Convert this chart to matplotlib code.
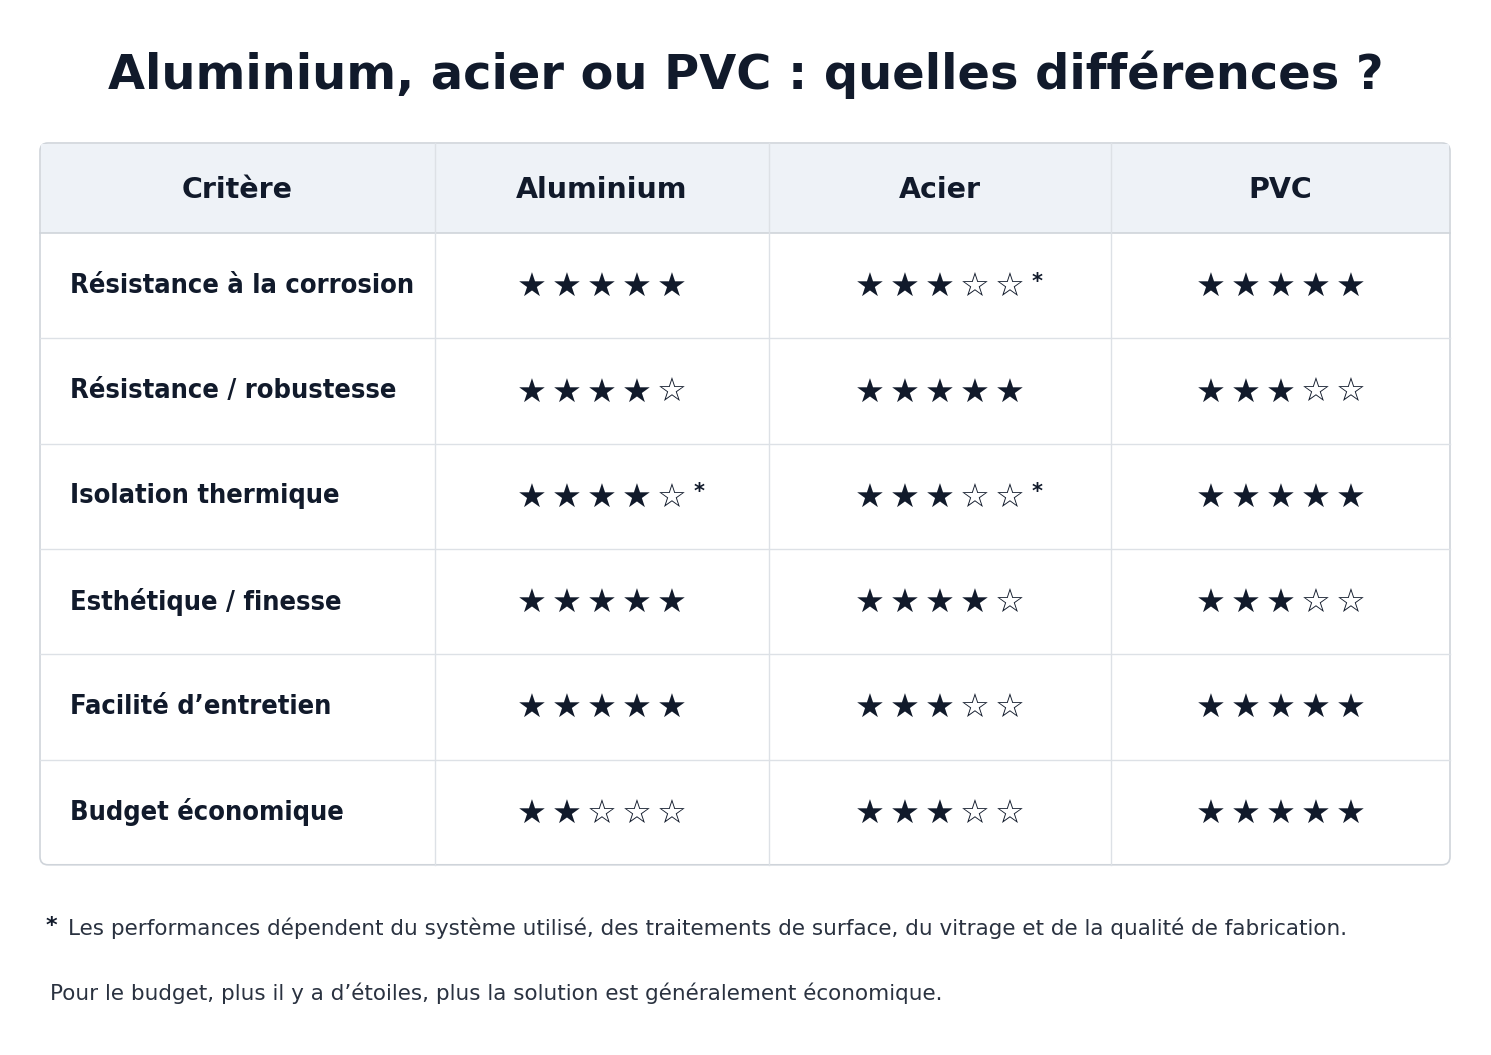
import matplotlib.pyplot as plt
from matplotlib.patches import FancyBboxPatch, Rectangle

title = "Aluminium, acier ou PVC : quelles différences ?"
columns = ["Critère", "Aluminium", "Acier", "PVC"]
criteria = ["Résistance à la corrosion", "Résistance / robustesse", "Isolation thermique",
            "Esthétique / finesse", "Facilité d\u2019entretien", "Budget économique"]
alu = [5, 4, 4, 5, 5, 2]
acier = [3, 5, 3, 4, 3, 3]
pvc = [5, 3, 5, 3, 5, 5]
alu_note = [False, False, True, False, False, False]
acier_note = [True, False, True, False, False, False]
pvc_note = [False] * 6
footnote1 = "Les performances dépendent du système utilisé, des traitements de surface, du vitrage et de la qualité de fabrication."
footnote2 = "Pour le budget, plus il y a d\u2019étoiles, plus la solution est généralement économique."

W, H = 1491, 1055
ink = "#111a2b"
grid = "#dde1e6"
col_x = [40, 435, 769, 1111, 1450]
top, head_bot, row_h = 143, 233, 105.3
pitch = 35

fig = plt.figure(figsize=(W / 100, H / 100), dpi=100)
ax = fig.add_axes([0, 0, 1, 1])
ax.set_xlim(0, W)
ax.set_ylim(H, 0)
ax.axis("off")

ax.text(W / 2, 75, title, ha="center", va="center", fontsize=34.5, fontweight="bold",
        color=ink, family="DejaVu Sans")

bottom = head_bot + row_h * len(criteria)
ax.add_patch(FancyBboxPatch((col_x[0], top), col_x[-1] - col_x[0], bottom - top,
                            boxstyle="round,pad=0,rounding_size=8", fc="white", ec="#cfd4da", lw=1.2, zorder=1))
ax.add_patch(Rectangle((col_x[0] + 1, top + 1), col_x[-1] - col_x[0] - 2, head_bot - top - 1,
                       fc="#eef2f7", ec="none", zorder=1.5))
ax.plot([col_x[0], col_x[-1]], [head_bot, head_bot], color="#cfd4da", lw=1.2, zorder=2)
for i in range(1, len(criteria)):
    y = head_bot + row_h * i
    ax.plot([col_x[0], col_x[-1]], [y, y], color=grid, lw=1, zorder=2)
for x in col_x[1:-1]:
    ax.plot([x, x], [top, bottom], color=grid, lw=1, zorder=2)

for j, c in enumerate(columns):
    ax.text((col_x[j] + col_x[j + 1]) / 2, (top + head_bot) / 2 + 2, c, ha="center", va="center",
            fontsize=20.5, fontweight="bold", color=ink, zorder=3)

for i, crit in enumerate(criteria):
    yc = head_bot + row_h * (i + 0.5)
    ax.text(70, yc, crit, ha="left", va="center", fontsize=19.5, fontweight="bold",
            color=ink, zorder=3, stretch="condensed")
    for j, (vals, notes) in enumerate([(alu, alu_note), (acier, acier_note), (pvc, pvc_note)]):
        cx = (col_x[j + 1] + col_x[j + 2]) / 2
        x0 = cx - 2 * pitch
        for k in range(5):
            ax.text(x0 + k * pitch, yc + 2, "★" if k < vals[i] else "☆", ha="center", va="center",
                    fontsize=24, color=ink, zorder=3)
        if notes[i]:
            ax.text(x0 + 4 * pitch + 22, yc - 4, "*", ha="left", va="center",
                    fontsize=15, fontweight="bold", color=ink, zorder=3)

ax.text(46, 926, "*", ha="left", va="center", fontsize=16, fontweight="bold", color=ink)
ax.text(68, 928, footnote1, ha="left", va="center", fontsize=15.5, color="#2a3240")
ax.text(50, 993, footnote2, ha="left", va="center", fontsize=15.5, color="#2a3240")

fig.savefig("out.png", dpi=100, facecolor="white")
